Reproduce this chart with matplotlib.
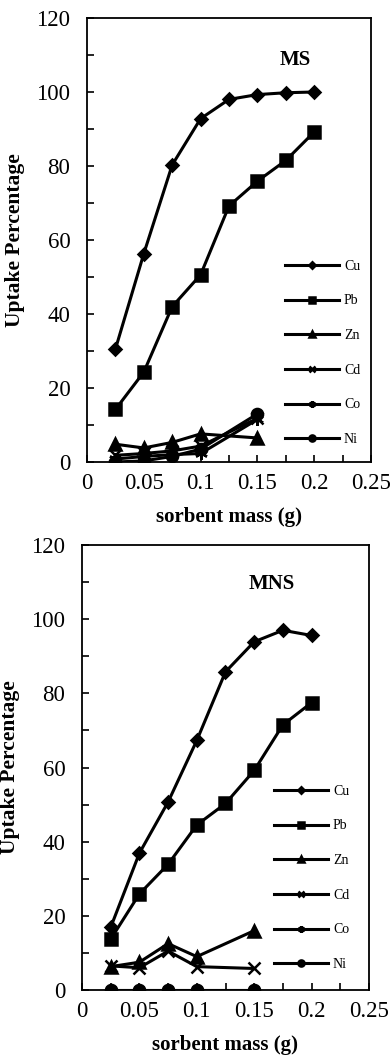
import numpy as np
import matplotlib
matplotlib.use("Agg")
import matplotlib.pyplot as plt
from matplotlib.ticker import MultipleLocator

plt.rcParams['font.family'] = ['Liberation Serif', 'DejaVu Serif']

# sorbent mass (g)
mass_long = [0.025, 0.05, 0.075, 0.1, 0.125, 0.15, 0.175, 0.2]
mass_short = [0.025, 0.05, 0.075, 0.1, 0.15]

# MS uptake percentage
ms_cu = [30.5, 56.3, 80.3, 92.8, 98.0, 99.3, 99.8, 100.0]
ms_pb = [14.2, 24.3, 42.0, 50.6, 69.2, 75.9, 81.5, 89.2]
ms_zn = [4.8, 3.8, 5.3, 7.6, 6.5]
ms_cd = [1.8, 2.3, 3.0, 4.3, 11.8]
ms_co = [0.8, 1.5, 2.0, 2.3, 11.5]
ms_ni = [0.0, 0.3, 1.5, 3.5, 13.0]

# MNS uptake percentage
mns_cu = [16.9, 36.9, 50.7, 67.3, 85.8, 93.9, 97.0, 95.6]
mns_pb = [13.7, 25.9, 33.9, 44.5, 50.3, 59.2, 71.5, 77.5]
mns_zn = [6.3, 7.5, 12.5, 9.0, 16.0]
mns_cd = [6.5, 6.0, 10.5, 6.3, 5.8]
mns_co = [0.0, 0.0, 0.0, 0.0, 0.0]
mns_ni = [0.0, 0.0, 0.0, 0.0, 0.0]

labels = ["Cu", "Pb", "Zn", "Cd", "Co", "Ni"]
markers = ["D", "s", "^", "x", (6, 2, 0), "o"]
msizes = [6, 9, 8, 9, 9, 8]


def draw_panel(ax, series, tag, tag_xy, leg_anchor):
    xs = [mass_long, mass_long, mass_short, mass_short, mass_short, mass_short]
    for x, y, lab, m, ms in zip(xs, series, labels, markers, msizes):
        ax.plot(x, y, color="black", lw=2.2, marker=m, markersize=ms,
                markeredgewidth=1.8, label=lab)
    ax.set_xlim(0, 0.25)
    ax.set_ylim(0, 120)
    ax.xaxis.set_minor_locator(MultipleLocator(0.025))
    ax.yaxis.set_major_locator(MultipleLocator(20))
    ax.yaxis.set_minor_locator(MultipleLocator(10))
    ax.set_xticks([0, 0.05, 0.1, 0.15, 0.2, 0.25])
    ax.set_xticklabels(["0", "0.05", "0.1", "0.15", "0.2", "0.25"])
    ax.tick_params(which="both", direction="in", length=5, width=1.2,
                   top=False, right=False)
    ax.tick_params(axis="y", labelsize=16.5, pad=12)
    ax.tick_params(axis="x", labelsize=16.5, pad=8)
    for s in ax.spines.values():
        s.set_linewidth(1.3)
    ax.set_xlabel("sorbent mass (g)", fontsize=15, fontweight="bold", labelpad=9)
    ax.set_ylabel("Uptake Percentage", fontsize=15.5, fontweight="bold", labelpad=8)
    ax.text(tag_xy[0], tag_xy[1], tag, transform=ax.transAxes,
            fontsize=15, fontweight="bold", ha="center", va="center")
    ax.legend(loc="center left", bbox_to_anchor=leg_anchor, frameon=False,
              fontsize=10, handlelength=3.9, handletextpad=0.35,
              labelspacing=1.56, markerscale=0.55, borderpad=0,
              borderaxespad=0)


fig = plt.figure(figsize=(3.91, 10.57), dpi=100)

ax1 = fig.add_axes([87 / 391, 1 - 462 / 1057, 284 / 391, 444 / 1057])
draw_panel(ax1, [ms_cu, ms_pb, ms_zn, ms_cd, ms_co, ms_ni], "MS",
           (0.732, 0.905), (0.697, 0.2455))

ax2 = fig.add_axes([82 / 391, 1 - 990 / 1057, 287 / 391, 445 / 1057])
draw_panel(ax2, [mns_cu, mns_pb, mns_zn, mns_cd, mns_co, mns_ni], "MNS",
           (0.66, 0.912), (0.669, 0.2517))

fig.savefig("out.png", dpi=100)
